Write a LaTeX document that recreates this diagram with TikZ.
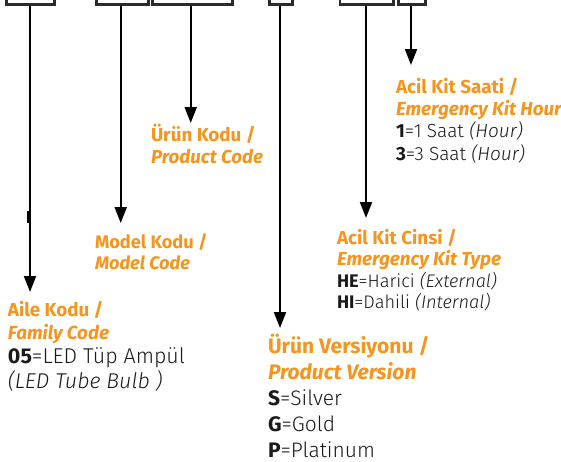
\documentclass[tikz,border=0pt]{standalone}
\usepackage{fontspec}
\setmainfont{Fira Sans}[UprightFont={* Light}, ItalicFont={* Light Italic}, BoldFont={* Bold}, BoldItalicFont={* Bold Italic}]
\usetikzlibrary{arrows.meta}
\definecolor{orng}{HTML}{F7941D}
\definecolor{boxgray}{HTML}{2B2B2B}
\definecolor{txt}{HTML}{1A1A1A}
\newcommand{\hd}[1]{\textcolor{orng}{\textbf{#1}}}
\newcommand{\hdi}[1]{\textcolor{orng}{\textbf{\textit{#1}}}}
\begin{document}
\begin{tikzpicture}[x=1pt,y=-1pt,
  codebox/.style={draw=boxgray, line width=2.6pt, inner sep=0pt, minimum height=24pt, anchor=south west},
  conn/.style={draw=black, line width=2pt, -{Triangle[length=16pt,width=12pt]}},
  blk/.style={anchor=base west, inner sep=0pt, outer sep=0pt, text=txt}]
\useasboundingbox (0,0) rectangle (561,461);
% code boxes (top edges run off the picture)
\node[codebox, minimum width=47.7pt] (b1) at (5.3,5.7) {};
\node[codebox, minimum width=52pt]   (b2) at (95,5.7) {};
\node[codebox, minimum width=79.7pt] (b3) at (151.3,5.7) {};
\node[codebox, minimum width=23.3pt] (b4) at (268,5.7) {};
\node[codebox, minimum width=53.6pt] (b5) at (338.7,5.7) {};
\node[codebox, minimum width=26.9pt] (b6) at (397.3,5.7) {};
% arrow ends
\coordinate (e1) at (30,292);
\coordinate (e2) at (120.7,223);
\coordinate (e3) at (190.7,123);
\coordinate (e4) at (280,328);
\coordinate (e5) at (366,218);
\coordinate (e6) at (411,65);
\draw[conn] (b1.south -| e1) -- (e1);
\draw[conn] (b2.south -| e2) -- (e2);
\draw[conn] (b3.south -| e3) -- (e3);
\draw[conn] (b4.south -| e4) -- (e4);
\draw[conn] (b5.south -| e5) -- (e5);
\draw[conn] (b6.south -| e6) -- (e6);
\fill[black] (27.3,211) rectangle (29.3,223);
% text blocks
\node[blk] (saati) at (396,93.3) {\fontsize{18.8}{22}\selectfont\begin{tabular}[t]{@{}l@{}}
\hd{Acil Kit Saati /}\\ \hdi{Emergency Kit Hour}\\ \fontsize{19}{22}\selectfont\textbf{1}=1 Saat \textit{(Hour)}\\ \fontsize{19}{22}\selectfont\textbf{3}=3 Saat \textit{(Hour)}\end{tabular}};
\node[blk] (urunkodu) at (151,141.7) {\fontsize{18.8}{21.3}\selectfont\begin{tabular}[t]{@{}l@{}}
\hd{Ürün Kodu /}\\ \hdi{Product Code}\end{tabular}};
\node[blk] (model) at (95,248) {\fontsize{18.2}{21}\selectfont\begin{tabular}[t]{@{}l@{}}
\hd{Model Kodu /}\\ \hdi{Model Code}\end{tabular}};
\node[blk] (cinsi) at (337,244) {\fontsize{18.8}{21.3}\selectfont\begin{tabular}[t]{@{}l@{}}
\hd{Acil Kit Cinsi /}\\ \hdi{Emergency Kit Type}\\ \fontsize{18.2}{21.3}\selectfont\textbf{HE}=Harici \textit{(External)}\\ \fontsize{18.2}{21.3}\selectfont\textbf{HI}=Dahili \textit{(Internal)}\end{tabular}};
\node[blk] (aile) at (8,316) {\fontsize{18.8}{23.5}\selectfont\begin{tabular}[t]{@{}l@{}}
\hd{Aile Kodu /}\\ \hdi{Family Code}\\ \fontsize{21.4}{24}\selectfont\textbf{05}=LED Tüp Ampül\\ \fontsize{21.4}{24}\selectfont\textit{(LED Tube Bulb )}\end{tabular}};
\node[blk] (versiyon) at (268,353) {\fontsize{21}{26}\selectfont\begin{tabular}[t]{@{}l@{}}
\hd{Ürün Versiyonu /}\\ \hdi{Product Version}\\ \fontsize{21}{25.5}\selectfont\textbf{S}=Silver\\ \fontsize{21}{25.5}\selectfont\textbf{G}=Gold\\ \fontsize{21}{25.5}\selectfont\textbf{P}=Platinum\end{tabular}};
\end{tikzpicture}
\end{document}
